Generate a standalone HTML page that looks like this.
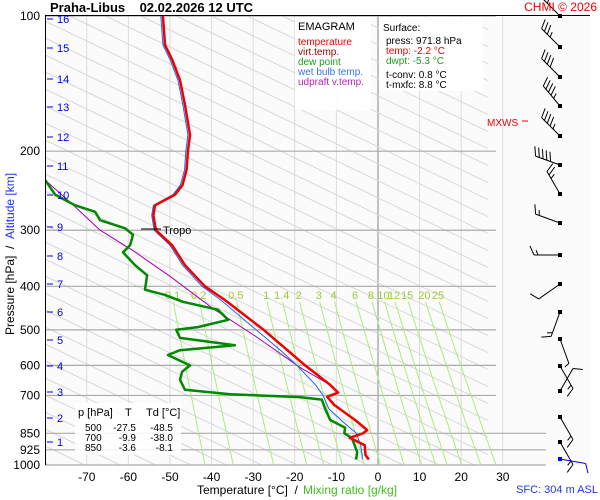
<!DOCTYPE html>
<html><head><meta charset="utf-8"><style>
html,body{margin:0;padding:0;width:600px;height:500px;overflow:hidden;background:#fff;}
svg{display:block;font-family:"Liberation Sans",sans-serif;overflow:hidden;}
</style></head><body>
<svg id="chart" width="600" height="500" viewBox="0 0 600 500" xmlns="http://www.w3.org/2000/svg">
<rect x="0" y="0" width="600" height="500" fill="#ffffff"/>
<rect x="45" y="16" width="545" height="449" fill="#fbfbfb"/>
<defs><clipPath id="plotclip"><rect x="45" y="16" width="448" height="449"/></clipPath></defs>
<g id="grid"></g>
<g id="isobars"></g>
<g id="mixr"></g>
<g id="series" clip-path="url(#plotclip)"></g>
<g id="axes"></g>
<g id="winds"></g>
</svg>
<script>
// ---- data ----
const tempP = [100,116,125,139,158,184,200,220,238,250,264,278,300,324,359,400,429,500,600,663,690,705,735,794,836,850,870,903,950,972];
const tempT = [-51.7,-51.2,-49.5,-47.6,-46.4,-45.2,-45.7,-46,-47,-48.8,-53.6,-54,-53.4,-49.5,-46.4,-41.6,-36.8,-27.5,-17.5,-11.5,-9.6,-12.2,-10.5,-5.5,-2.6,-3.6,-6.8,-3.2,-3.0,-2.2];
const dewP = [232,250,257,264,273,285,297,307,324,336,359,378,407,418,433,451,475,493,500,521,541,555,569,600,620,646,680,696,706,715,750,794,826,850,870,936,972];
const dewT = [-80,-77.6,-75.2,-72.8,-68,-66.8,-60.8,-58.9,-59.6,-61.3,-58.4,-55.5,-56,-51.2,-46.9,-38.5,-36,-43.3,-48.5,-47.6,-34.4,-47.6,-50.5,-45.2,-47.1,-47.6,-46.4,-35.6,-18.8,-13.5,-12.7,-11.5,-7.9,-8.1,-6.3,-5,-5.3];
const wbP = [100,116,125,139,158,184,200,220,238,250,264,278,300,324,359,400,429,500,560,600,663,700,750,800,850,900,950,972];
const wbT = [-52.2,-51.7,-50,-48.1,-46.9,-45.7,-46.2,-46.5,-47.5,-49.3,-54,-54.4,-53.8,-50,-47,-42.3,-37.8,-29.3,-23,-19.5,-15,-13.2,-11.8,-8.5,-5.2,-4.2,-3.8,-3.8];
const parcelP = [232,265,300,333,380,448,520,606,663];
const parcelT = [-80,-73,-66.8,-58.9,-50,-39.7,-29,-18.8,-11.5];
const windY = [16,47,77,106,136,165,194,223,255,284,312,339,366,391,417,442,459];
const windDir = [315,315,315,320,315,290,330,290,270,235,200,160,150,30,150,150,100];
const windSpd = [30,35,40,45,45,50,25,15,15,10,15,5,15,10,15,15,10];
const pLevels = [100,200,300,400,500,600,700,850,925,1000];
const tTicks = [-70,-60,-50,-40,-30,-20,-10,0,10,20,30];
const kmTicks = [1,2,3,4,5,6,7,8,9,10,11,12,13,14,15,16];
const kmY = [442,418,392,366,340,312,284,256,227,195,166,137,107,79,48,19];
const mixW = [0.1,0.2,0.5,1,1.4,2,3,4,6,8,10,12,15,20,25];
// ---- scales ----
const NS='http://www.w3.org/2000/svg';
const xT = t => 378 + 4.16*t;
const yP = p => 16 + 195.0*Math.log(p/100);
function mk(parent, tag, attrs){const e=document.createElementNS(NS,tag);for(const k in attrs)e.setAttribute(k,attrs[k]);parent.appendChild(e);return e;}
const g = id => document.getElementById(id);
for(const t of tTicks){
  const l=mk(g('grid'),'line',{x1:xT(t),x2:xT(t),y1:16,y2:465,stroke:t===0?'#999':'#dcdcdc','stroke-width':t===0?1.2:1});
  
  
}
// background diagonal lines, clipped analytically to the plot
const SL=0.48, XL=45, XR=488, YT=16, YB=465;
for(let y0=-200; y0<YB; y0+=17){
  const xa=Math.max(XL, XL+(YT-y0)/SL), xb=Math.min(XR, XL+(YB-y0)/SL);
  if(xb<=xa) continue;
  const a=mk(g('grid'),'line',{x1:xa.toFixed(1),y1:(y0+SL*(xa-XL)).toFixed(1),x2:xb.toFixed(1),y2:(y0+SL*(xb-XL)).toFixed(1),stroke:'#d8d8d8','stroke-width':1});
  
  
}
for(const p of pLevels){
  const x2 = p>=850?546:496;
  const l=mk(g('isobars'),'line',{x1:45,x2:x2,y1:yP(p),y2:yP(p),stroke:'#aaa','stroke-width':1.2});
  
  
  const tx=mk(g('axes'),'text',{x:40,y:yP(p)+4,'text-anchor':'end','font-size':12,fill:'#000'});
  tx.textContent=p;
  
  
}
function tdFromE(e){const l=Math.log(e/6.112);return 243.5*l/(17.67-l);}
for(const w of mixW){
  let d='';
  for(let p=433;p<=1000;p+=20){const e=w*p/(622+w);d+=(d?'L':'M')+xT(tdFromE(e)).toFixed(1)+','+yP(p).toFixed(1);}
  const e2=w*1000/(622+w);d+='L'+xT(tdFromE(e2)).toFixed(1)+','+yP(1000).toFixed(1);
  const a=mk(g('mixr'),'path',{d:d,fill:'none',stroke:'#a8ee7a','stroke-width':1});
  
  
  const e0=w*425/(622+w);
  const tx=mk(g('mixr'),'text',{x:xT(tdFromE(e0)),y:299,'text-anchor':'middle','font-size':11,fill:'#99cc33'});
  tx.textContent=w;
  
  
}
function line(P,T,color,width,name){
  let d='';for(let i=0;i<P.length;i++)d+=(i?'L':'M')+xT(T[i]).toFixed(1)+','+yP(P[i]).toFixed(1);
  const a=mk(g('series'),'path',{d:d,fill:'none',stroke:color,'stroke-width':width,'stroke-linejoin':'round'});
  
  
}
line(parcelP,parcelT,'#aa00aa',1,'updraft-virtual-temperature-line');
line(dewP,dewT,'#008800',2.5,'dew-point-line');
line(wbP,wbT,'#2266ee',1,'wet-bulb-line');
line(tempP,tempT,'#880000',1,'virtual-temperature-line');
line(tempP,tempT,'#ee0000',2.5,'temperature-line');
for(let i=0;i<windY.length;i++){
  const x0=560,y0=windY[i],r=windDir[i]*Math.PI/180;
  const ux=Math.sin(r),uy=-Math.cos(r);
  const col=i===windY.length-1?'#0000ee':'#000';
  const gg=mk(g('winds'),'g',{stroke:col,'stroke-width':1,fill:'none'});
  
  
  const L=26,xe=x0+ux*L,ye=y0+uy*L;
  mk(gg,'line',{x1:x0,y1:y0,x2:xe,y2:ye});
  const px=-uy,py=ux;
  let s=windSpd[i],k=0;
  while(s>=10){const bx=xe-ux*k*4,by=ye-uy*k*4;mk(gg,'line',{x1:bx,y1:by,x2:bx+px*9+ux*4,y2:by+py*9+uy*4});s-=10;k++;}
  if(s>=5){const bx=xe-ux*k*4,by=ye-uy*k*4;mk(gg,'line',{x1:bx,y1:by,x2:bx+px*5+ux*2,y2:by+py*5+uy*2});}
  mk(g('winds'),'rect',{x:x0-2,y:y0-2,width:4,height:4,fill:col});
}
for(let i=0;i<kmTicks.length;i++){
  mk(g('axes'),'line',{x1:47,x2:53,y1:kmY[i],y2:kmY[i],stroke:'#0000ee','stroke-width':1});
  const tx=mk(g('axes'),'text',{x:57,y:kmY[i]+4,'font-size':11,fill:'#0000ee'});
  tx.textContent=kmTicks[i];
  
  
}
for(const t of tTicks){
  const tx=mk(g('axes'),'text',{x:xT(t),y:481,'text-anchor':'middle','font-size':12,fill:'#000'});
  tx.textContent=t;
  
  
}
</script>
<script>
const s=document.getElementById('chart');
s.insertAdjacentHTML('beforeend',`
<line x1="45" y1="15.5" x2="590" y2="15.5" stroke="#000"/>
<line x1="45.5" y1="16" x2="45.5" y2="465" stroke="#000"/>
<text x="50" y="12" font-size="13" font-weight="bold">Praha-Libus&#160;&#160;&#160;&#160;02.02.2026 12 UTC</text>
<text x="597" y="11" font-size="12" text-anchor="end" fill="#ee0000">CHMI © 2026</text>
<rect x="295" y="17" width="76" height="93" fill="#fff" opacity="0.9"/>
<g font-size="10">
<text x="298" y="30" font-size="11" fill="#000">EMAGRAM</text>
<text x="298" y="45" fill="#ee0000">temperature</text>
<text x="298" y="55" fill="#990000">virt.temp.</text>
<text x="298" y="65" fill="#229922">dew point</text>
<text x="298" y="75" fill="#3377ee">wet bulb temp.</text>
<text x="298" y="85" fill="#bb22bb">udpraft v.temp.</text>
</g>
<rect x="379" y="17" width="104" height="74" fill="#fff" opacity="0.9"/>
<g font-size="10">
<text x="383" y="31">Surface:</text>
<text x="386" y="44">press: 971.8 hPa</text>
<text x="386" y="54" fill="#ee0000">temp: -2.2 °C</text>
<text x="386" y="64" fill="#229922">dwpt: -5.3 °C</text>
<text x="386" y="78">t-conv: 0.8 °C</text>
<text x="386" y="88">t-mxfc: 8.8 °C</text>
</g>
<text x="487" y="126" font-size="10" fill="#ee0000">MXWS</text>
<line x1="522" y1="121" x2="528" y2="121" stroke="#ee0000"/>
<line x1="141" y1="229" x2="161" y2="229" stroke="#000"/>
<text x="163" y="234" font-size="11">Tropo</text>
<rect x="75" y="403" width="106" height="52" fill="#fff" opacity="0.85"/>
<g font-size="11">
<text x="78" y="416">p [hPa]</text><text x="125" y="416">T</text><text x="146" y="416">Td [°C]</text>
<text x="85" y="431" font-size="10">500</text><text x="136" y="431" font-size="10" text-anchor="end">-27.5</text><text x="173" y="431" font-size="10" text-anchor="end">-48.5</text>
<text x="85" y="441" font-size="10">700</text><text x="136" y="441" font-size="10" text-anchor="end">-9.9</text><text x="173" y="441" font-size="10" text-anchor="end">-38.0</text>
<text x="85" y="451" font-size="10">850</text><text x="136" y="451" font-size="10" text-anchor="end">-3.6</text><text x="173" y="451" font-size="10" text-anchor="end">-8.1</text>
</g>
<text x="197" y="494" font-size="12">Temperature [°C]&#160;&#160;/</text>
<text x="303" y="494" font-size="12" fill="#44bb22">Mixing ratio [g/kg]</text>
<text x="598" y="493" font-size="11" text-anchor="end" fill="#2233ee">SFC: 304 m ASL</text>
<text transform="translate(14,335) rotate(-90)" font-size="12"><tspan fill="#000">Pressure [hPa]&#160;&#160;/&#160;&#160;</tspan><tspan fill="#2233ee">Altitude [km]</tspan></text>
`);
</script>
</body></html>
